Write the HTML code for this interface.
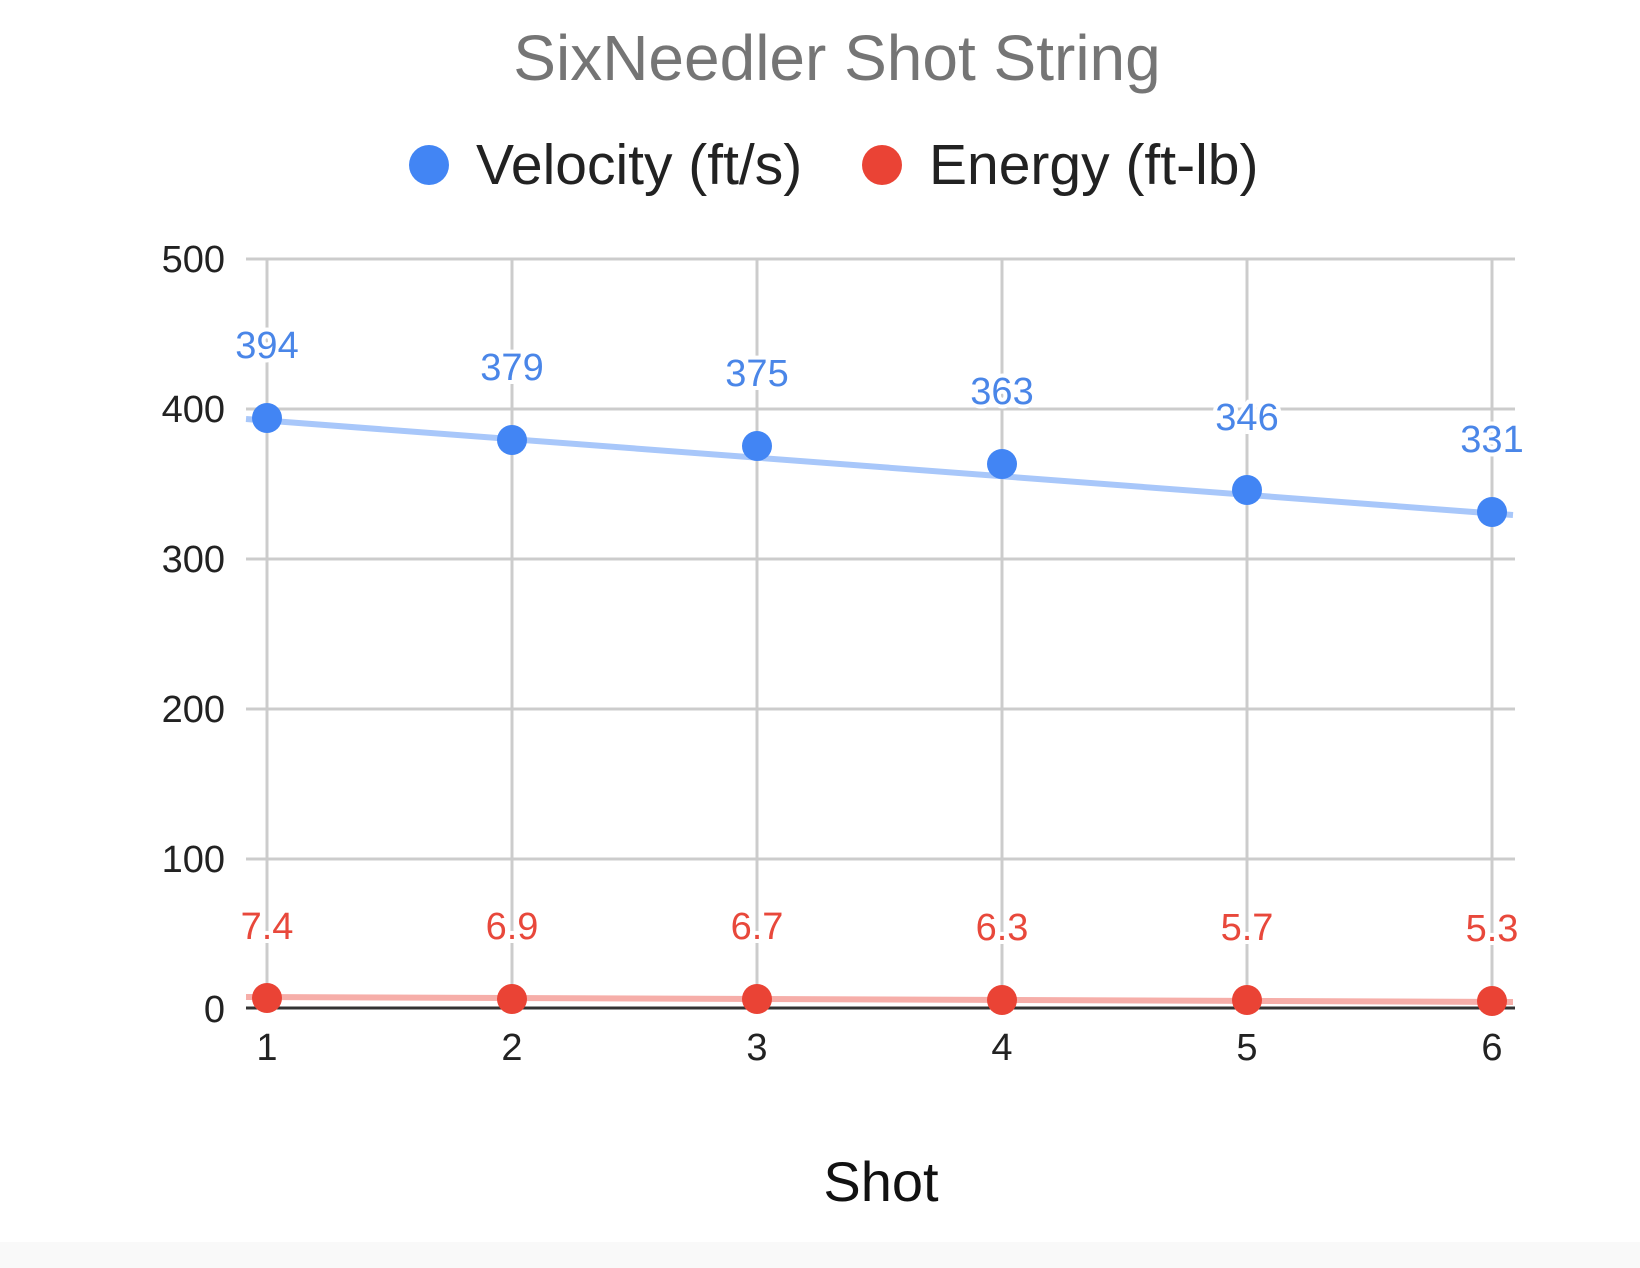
<!DOCTYPE html><html><head><style>body{margin:0;background:#fff}svg{display:block}</style></head><body>
<svg width="1640" height="1268" xmlns="http://www.w3.org/2000/svg" font-family="Liberation Sans, Arial, sans-serif">
<rect width="1640" height="1268" fill="#fff"/>
<rect y="1242" width="1640" height="26" fill="#f9f9f9"/>
<text x="837" y="80" font-size="64" fill="#757575" text-anchor="middle">SixNeedler Shot String</text>
<circle cx="429" cy="165" r="20" fill="#4285f4"/>
<text x="476" y="184" font-size="57" fill="#222">Velocity (ft/s)</text>
<circle cx="882" cy="165" r="20" fill="#ea4335"/>
<text x="929" y="184" font-size="57" fill="#222">Energy (ft-lb)</text>
<g stroke="#ccc" stroke-width="3">
<line x1="246" x2="1515" y1="259" y2="259"/><line x1="246" x2="1515" y1="409" y2="409"/><line x1="246" x2="1515" y1="559" y2="559"/><line x1="246" x2="1515" y1="709" y2="709"/><line x1="246" x2="1515" y1="859" y2="859"/>
<line x1="267" x2="267" y1="259" y2="1008"/><line x1="512" x2="512" y1="259" y2="1008"/><line x1="757" x2="757" y1="259" y2="1008"/><line x1="1002" x2="1002" y1="259" y2="1008"/><line x1="1247" x2="1247" y1="259" y2="1008"/><line x1="1492" x2="1492" y1="259" y2="1008"/>
</g>
<line x1="246" x2="1515" y1="1008" y2="1008" stroke="#333" stroke-width="3"/>
<g font-size="38" fill="#222" text-anchor="end">
<text x="225" y="272">500</text><text x="225" y="422">400</text><text x="225" y="572">300</text><text x="225" y="722">200</text><text x="225" y="872">100</text><text x="225" y="1022">0</text></g>
<g font-size="38" fill="#222" text-anchor="middle">
<text x="267" y="1060">1</text><text x="512" y="1060">2</text><text x="757" y="1060">3</text><text x="1002" y="1060">4</text><text x="1247" y="1060">5</text><text x="1492" y="1060">6</text></g>
<line x1="246" y1="419" x2="1513" y2="515" stroke="#a8c7fa" stroke-width="6"/>
<line x1="246" y1="997" x2="1513" y2="1002" stroke="#f6aea9" stroke-width="6"/>
<g fill="#4285f4"><circle cx="267" cy="418" r="15"/><circle cx="512" cy="440" r="15"/><circle cx="757" cy="446" r="15"/><circle cx="1002" cy="464" r="15"/><circle cx="1247" cy="490" r="15"/><circle cx="1492" cy="512" r="15"/></g>
<g fill="#ea4335"><circle cx="267" cy="998" r="15"/><circle cx="512" cy="999" r="15"/><circle cx="757" cy="999" r="15"/><circle cx="1002" cy="1000" r="15"/><circle cx="1247" cy="1000" r="15"/><circle cx="1492" cy="1001" r="15"/></g>
<g font-size="38" fill="#4a86e8" text-anchor="middle" stroke="#fff" stroke-width="8" paint-order="stroke">
<text x="267" y="358">394</text><text x="512" y="380">379</text><text x="757" y="386">375</text><text x="1002" y="404">363</text><text x="1247" y="430">346</text><text x="1492" y="452">331</text></g>
<g font-size="38" fill="#e8483b" text-anchor="middle" stroke="#fff" stroke-width="8" paint-order="stroke">
<text x="267" y="939">7.4</text><text x="512" y="939">6.9</text><text x="757" y="939">6.7</text><text x="1002" y="940">6.3</text><text x="1247" y="940">5.7</text><text x="1492" y="941">5.3</text></g>
<text x="881" y="1201" font-size="56" fill="#111" text-anchor="middle">Shot</text>
</svg></body></html>
